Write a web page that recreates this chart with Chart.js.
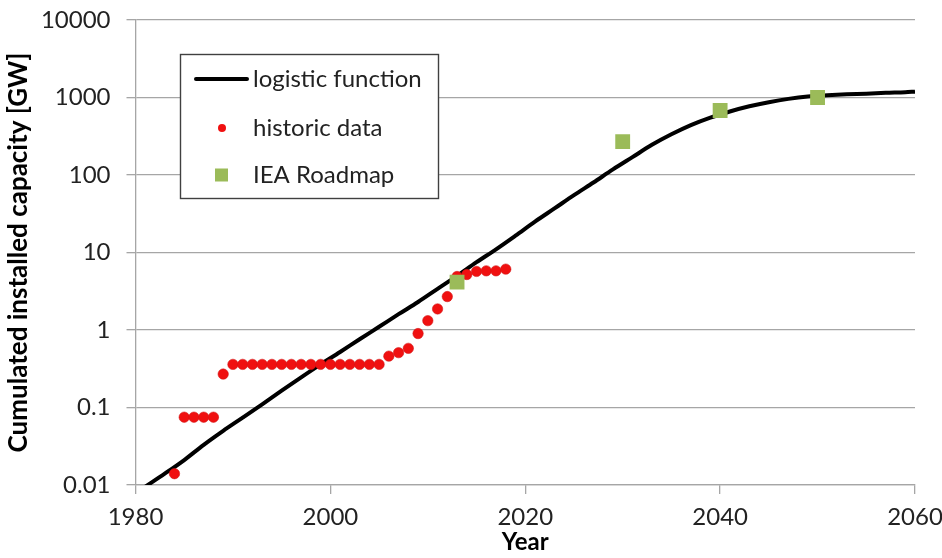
<!DOCTYPE html>
<html><head><meta charset="utf-8">
<script src="https://cdn.jsdelivr.net/npm/chart.js@4"></script>
<style>html,body{margin:0;padding:0;background:#fff}#wrap{width:942px;height:558px;position:relative}</style>
</head><body><div id="wrap"><canvas id="c"></canvas></div>
<script>
// ---- data ----
const logisticYears  = [1981,1983,1985,1987,1989,1991,1993,1995,1997,1999,2001,2003,2005,2007,2009,2011,2013,2015,2017,2019,2021,2023,2025,2027,2029,2031,2033,2035,2037,2039,2041,2043,2045,2047,2049,2051,2053,2055,2057,2059,2060];
const logisticValues = [0.0095,0.014,0.021,0.033,0.050,0.074,0.11,0.165,0.245,0.36,0.52,0.76,1.1,1.6,2.3,3.4,5.0,7.5,11,16.5,25,37,55,80,118,170,245,335,440,550,660,770,870,960,1030,1070,1100,1120,1150,1170,1190];
const historicYears  = [1984,1985,1986,1987,1988,1989,1990,1991,1992,1993,1994,1995,1996,1997,1998,1999,2000,2001,2002,2003,2004,2005,2006,2007,2008,2009,2010,2011,2012,2013,2014,2015,2016,2017,2018];
const historicValues = [0.014,0.075,0.075,0.075,0.075,0.27,0.36,0.36,0.36,0.36,0.36,0.36,0.36,0.36,0.36,0.36,0.36,0.36,0.36,0.36,0.36,0.36,0.46,0.51,0.58,0.90,1.32,1.87,2.7,4.9,5.2,5.7,5.8,5.8,6.1];
const roadmapYears   = [2013,2030,2040,2050];
const roadmapValues  = [4.15,270,680,1000];
const xTickLabels = [1980,2000,2020,2040,2060];
const yTickLabels = [0.01,0.1,1,10,100,1000,10000];
const seriesNames = ['logistic function','historic data','IEA Roadmap'];
const xTitle = 'Year';
const yTitle = 'Cumulated installed capacity [GW]';

const pts = (xs, ys) => xs.map((x, i) => ({x, y: ys[i]}));
const FONT = 'Lato, "Liberation Sans", sans-serif';
const TXT = '#222';
const GRID = '#a6a6a6';
const RED = '#f01010';
const GREEN = '#9bbb59';

const zeroPad = s => { s.paddingTop = 0; s.paddingBottom = 0; s.paddingLeft = 0; s.paddingRight = 0; };

const legendPlugin = {
  id: 'boxLegend',
  afterDraw(chart) {
    const ctx = chart.ctx;
    const x0 = 180, y0 = 54, w = 258, h = 144;
    ctx.save();
    ctx.fillStyle = '#fff';
    ctx.fillRect(x0, y0, w, h);
    ctx.strokeStyle = '#404040';
    ctx.lineWidth = 1.4;
    ctx.strokeRect(x0 + 0.5, y0 + 0.5, w, h);
    const rows = [79, 128, 175];
    const tx = 253;
    ctx.strokeStyle = '#000'; ctx.lineWidth = 4; ctx.lineCap = 'round';
    ctx.beginPath(); ctx.moveTo(196, rows[0]); ctx.lineTo(247, rows[0]); ctx.stroke();
    ctx.fillStyle = RED;
    ctx.beginPath(); ctx.arc(222, rows[1], 4, 0, Math.PI * 2); ctx.fill();
    ctx.fillStyle = GREEN;
    ctx.fillRect(215, rows[2] - 6.5, 13, 13);
    ctx.fillStyle = TXT;
    ctx.font = '24px ' + FONT;
    ctx.textBaseline = 'middle';
    ctx.textAlign = 'left';
    seriesNames.forEach((n, i) => ctx.fillText(n, tx, rows[i]));
    ctx.restore();
  }
};

new Chart(document.getElementById('c'), {
  type: 'scatter',
  data: {
    datasets: [
      { label: seriesNames[0], data: pts(logisticYears, logisticValues), showLine: true,
        borderColor: '#000', backgroundColor: '#000', borderWidth: 4, pointRadius: 0,
        cubicInterpolationMode: 'monotone', order: 3 },
      { label: seriesNames[1], data: pts(historicYears, historicValues), showLine: false,
        pointStyle: 'circle', pointRadius: 5.2, backgroundColor: RED, borderColor: 'rgba(210,20,20,0.7)', borderWidth: 0.8, order: 2 },
      { label: seriesNames[2], data: pts(roadmapYears, roadmapValues), showLine: false,
        pointStyle: 'rect', pointRadius: 10.5, backgroundColor: GREEN, borderColor: GREEN, borderWidth: 0, order: 1 }
    ]
  },
  options: {
    responsive: true, maintainAspectRatio: false, animation: false,
    devicePixelRatio: 1,
    layout: { padding: { left: 0, right: 27, top: 20, bottom: 0 } },
    plugins: { legend: { display: false }, tooltip: { enabled: false } },
    scales: {
      x: {
        type: 'linear', min: 1980, max: 2060,
        afterBuildTicks: s => { s.ticks = xTickLabels.map(v => ({ value: v })); },
        afterFit: s => { s.height = 73; zeroPad(s); },
        grid: { drawOnChartArea: false, drawTicks: true, tickLength: 9, color: GRID, lineWidth: 1.3 },
        border: { color: GRID, width: 1.3 },
        ticks: { color: TXT, font: { family: FONT, size: 24 }, padding: 9, maxRotation: 0, callback: v => String(v) },
        title: { display: true, text: xTitle, color: '#000', font: { family: FONT, size: 24, weight: 'bold', lineHeight: 1.2 }, padding: { top: 0, bottom: 1 } }
      },
      y: {
        type: 'logarithmic', min: 0.01, max: 10000,
        afterBuildTicks: s => { s.ticks = yTickLabels.map(v => ({ value: v })); },
        afterFit: s => { s.width = 135.5; zeroPad(s); },
        grid: { drawOnChartArea: true, drawTicks: true, tickLength: 9, color: GRID, lineWidth: 1.3 },
        border: { color: GRID, width: 1.3 },
        ticks: { color: TXT, font: { family: FONT, size: 24 }, padding: 16, callback: v => String(v) },
        title: { display: true, text: yTitle, color: '#000', font: { family: FONT, size: 26, weight: 'bold', lineHeight: 1.2 }, padding: { top: 3, bottom: 0 } }
      }
    }
  },
  plugins: [legendPlugin]
});
</script>
</body></html>
